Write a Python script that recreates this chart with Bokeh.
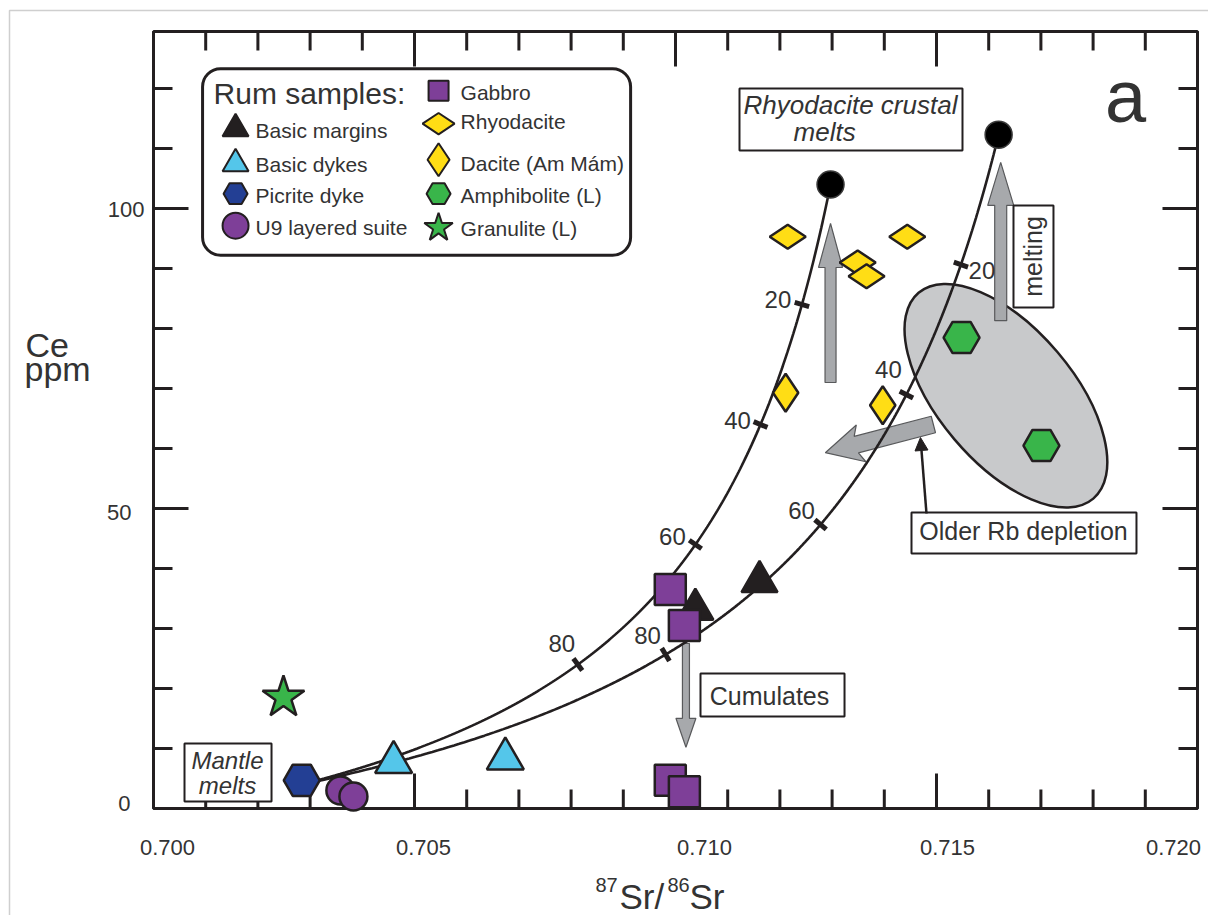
import numpy as np
from bokeh.plotting import figure
from bokeh.models import Range1d, BoxAnnotation, Arrow, NormalHead
from bokeh.core.properties import value
from bokeh.embed import file_html
from bokeh.resources import INLINE

# ---------------------------------------------------------------------------
# Rum samples: 87Sr/86Sr (initial) and Ce (ppm)
# ---------------------------------------------------------------------------
basic_margins_sr = [0.71038, 0.71161]
basic_margins_ce = [33.2, 37.8]
basic_dykes_sr = [0.70460, 0.70674]
basic_dykes_ce = [7.7, 8.3]
picrite_sr = [0.70284]
picrite_ce = [4.7]
u9_sr = [0.70358, 0.70383]
u9_ce = [3.0, 2.0]
gabbro_sr = [0.70990, 0.71017, 0.70990, 0.71017]
gabbro_ce = [36.5, 30.5, 4.7, 2.8]
rhyodacite_sr = [0.71215, 0.71349, 0.71366, 0.71444]
rhyodacite_ce = [95.3, 91.0, 88.7, 95.3]
dacite_sr = [0.71211, 0.71397]
dacite_ce = [69.3, 67.2]
amphibolite_sr = [0.71548, 0.71701]
amphibolite_ce = [78.5, 60.5]
granulite_sr = [0.70249]
granulite_ce = [18.5]

# Binary mixing between a mantle melt and two rhyodacitic crustal melts
mantle_sr, mantle_ce = 0.70284, 4.0
crust_sr = [0.71297, 0.71619]
crust_ce = [104.0, 112.3]
sr_conc_ratio = 4.37            # Sr(crustal melt) / Sr(mantle melt)
mix_pct = [20, 40, 60, 80]      # % mantle melt in the mixture

# axes
x_tick_values = [0.700, 0.705, 0.710, 0.715, 0.720]
x_minor_step = 0.001
y_tick_values = [0, 50, 100]
y_minor_step = 10

# ---------------------------------------------------------------------------
# styling
# ---------------------------------------------------------------------------
FONT = "Liberation Sans"
INK = "#231f20"
TXT = "#333333"
PURPLE = "#7e3f98"
YELLOW = "#ffdd15"
GREEN = "#39b54a"
NAVY = "#233f94"
CYAN = "#54c6ea"
ARROW_GREY = "#a7a9ac"
ELLIPSE_GREY = "#c8c9cb"

W, H = 1208, 915
X0, X1, Y0, Y1 = 0.700, 0.720, 0.0, 129.5      # extent of the plotting box
BOX_L, BOX_R, BOX_T, BOX_B = 153, 11, 31, 107   # margins around it (px)
SX = (W - BOX_L - BOX_R) / (X1 - X0)            # px per unit 87Sr/86Sr
SY = (H - BOX_T - BOX_B) / (Y1 - Y0)            # px per ppm Ce

p = figure(x_range=Range1d(X0 - BOX_L / SX, X1 + BOX_R / SX),
           y_range=Range1d(Y0 - BOX_B / SY, Y1 + BOX_T / SY),
           frame_width=W, frame_height=H,
           min_border_left=0, min_border_right=0, min_border_top=0, min_border_bottom=0,
           x_axis_location=None, y_axis_location=None,
           output_backend="svg", toolbar_location=None)
p.xgrid.visible = False
p.ygrid.visible = False
for r in p.center:
    r.visible = False
p.outline_line_color = None
p.background_fill_color = "white"
p.border_fill_color = "white"


def txt(x, y, s, size, align="center", baseline="middle", style="normal", angle=0.0):
    p.text(x=[x], y=[y], text=[s], angle=angle, text_align=align, text_baseline=baseline,
           text_font=value(FONT), text_font_style=style, text_font_size=size,
           text_color=TXT)


# thin page border
p.quad(left=[X0 - (BOX_L - 9) / SX], right=[X1 + 60 / SX],
       top=[Y1 + (BOX_T - 10) / SY], bottom=[Y0 - 200 / SY],
       fill_color=None, line_color="#cfcfcf", line_width=1.5)

# plotting box
p.quad(left=[X0], right=[X1], bottom=[Y0], top=[Y1],
       fill_color=None, line_color=INK, line_width=3)

# inward ticks on all four sides
x_all = np.round(np.arange(X0, X1 + 1e-9, x_minor_step), 4)
x_minor = [v for v in x_all if not np.isclose(v, x_tick_values).any()]
y_all = np.arange(Y0, Y1, y_minor_step)
y_minor = [v for v in y_all if v not in y_tick_values]
MAJ, MIN = 35, 19


def ticks_x(vals, length):
    n = len(vals)
    p.segment(x0=vals, x1=vals, y0=[Y0] * n, y1=[Y0 + length / SY] * n,
              line_color=INK, line_width=3)
    p.segment(x0=vals, x1=vals, y0=[Y1] * n, y1=[Y1 - length / SY] * n,
              line_color=INK, line_width=3)


def ticks_y(vals, length):
    n = len(vals)
    p.segment(x0=[X0] * n, x1=[X0 + length / SX] * n, y0=vals, y1=vals,
              line_color=INK, line_width=3)
    p.segment(x0=[X1] * n, x1=[X1 - length / SX] * n, y0=vals, y1=vals,
              line_color=INK, line_width=3)


ticks_x(list(x_tick_values), MAJ)
ticks_x(x_minor, MIN)
ticks_y(list(y_tick_values), MAJ)
ticks_y(y_minor, MIN)

# tick numbers
x_nudge = [14, 9, 29, 11, -24]
for v, dx in zip(x_tick_values, x_nudge):
    txt(v + dx / SX, Y0 - 38.5 / SY, f"{v:.3f}", "22px")
y_nudge = [(-23, -5), (-22, 3.5), (-9, 0.5)]
for v, (dx, dy) in zip(y_tick_values, y_nudge):
    txt(X0 + dx / SX, v - dy / SY, f"{v:d}", "22px", align="right")

# axis titles
txt(X0 - 128 / SX, Y0 + 464 / SY, "Ce", "34px", align="left")
txt(X0 - 129 / SX, Y0 + 440 / SY, "ppm", "34px", align="left")
for s, left, mid, size in (("87", 595, 884, "20px"), ("Sr/", 619, 896, "35px"),
                           ("86", 667, 884, "20px"), ("Sr", 689, 896, "35px")):
    txt(X0 + (left - BOX_L) / SX, Y0 - (mid - (H - BOX_B)) / SY, s, size, align="left")


def arrow_outline(x0, y0, x1, y1, shaft, head, head_len, sweep=0.0):
    """Polygon of a block arrow from (x0, y0) to (x1, y1); widths in pixels."""
    ax_, ay_ = x0 * SX, y0 * SY
    bx_, by_ = x1 * SX, y1 * SY
    length = np.hypot(bx_ - ax_, by_ - ay_)
    ux, uy = (bx_ - ax_) / length, (by_ - ay_) / length
    nx, ny = -uy, ux
    hx, hy = bx_ - ux * head_len, by_ - uy * head_len
    pts = [(ax_ + nx * shaft / 2, ay_ + ny * shaft / 2),
           (hx + nx * shaft / 2, hy + ny * shaft / 2),
           (hx - ux * sweep + nx * head / 2, hy - uy * sweep + ny * head / 2),
           (bx_, by_),
           (hx - ux * sweep - nx * head / 2, hy - uy * sweep - ny * head / 2),
           (hx - nx * shaft / 2, hy - ny * shaft / 2),
           (ax_ - nx * shaft / 2, ay_ - ny * shaft / 2)]
    return [q[0] / SX for q in pts], [q[1] / SY for q in pts]


# field of amphibolite (Lewisian) compositions
p.ellipse(x=[0.71633], y=[68.8], width=[270], height=[135], angle=[-0.867],
          width_units="screen", height_units="screen",
          fill_color=ELLIPSE_GREY, line_color=INK, line_width=2.5)

# process arrows
arrow_specs = [
    (0.71297, 71.0, 0.71297, 97.5, 11, 24, 44, 0),      # crustal melting, left curve
    (0.71623, 81.3, 0.71623, 107.7, 12, 26, 43, 0),     # crustal melting, right curve
    (0.71020, 27.5, 0.71020, 10.2, 7, 20, 29, 0),       # cumulates
    (0.71494, 64.0, 0.71287, 59.3, 17, 38, 32, 5),      # older Rb depletion
]
axs, ays = [], []
for spec in arrow_specs:
    xs_, ys_ = arrow_outline(*spec)
    axs.append(xs_)
    ays.append(ys_)
p.patches(xs=axs, ys=ays, fill_color=ARROW_GREY, line_color="#58595b", line_width=1.2)

# mixing curves with 20 % ticks
f = np.linspace(0.0, 1.0, 400)
frac = np.array(mix_pct) / 100.0


def mixing(fm, r_c, ce_c):
    fm = np.asarray(fm, dtype=float)
    w_c = (1.0 - fm) * sr_conc_ratio
    sr = (fm * mantle_sr + w_c * r_c) / (fm + w_c)
    ce = fm * mantle_ce + (1.0 - fm) * ce_c
    return sr, ce


label_shift = [  # pixel shift of each % label from its tick (right, down)
    [(-24, -5), (-23, -4), (-23, -8), (-16, -21)],
    [(21, 6), (-18, -25), (-19, -14), (-18, -19)],
]
for r_c, ce_c, shifts in zip(crust_sr, crust_ce, label_shift):
    sr_line, ce_line = mixing(f, r_c, ce_c)
    p.line(sr_line, ce_line, line_color=INK, line_width=2.6)
    sr_t, ce_t = mixing(frac, r_c, ce_c)
    sa, ca = mixing(frac - 0.005, r_c, ce_c)
    sb, cb = mixing(frac + 0.005, r_c, ce_c)
    ang = np.arctan2((cb - ca) * SY, (sb - sa) * SX) + np.pi / 2
    p.scatter(sr_t, ce_t, marker="dash", size=15, angle=ang,
              line_color=INK, line_width=5)
    lx = [s + d[0] / SX for s, d in zip(sr_t, shifts)]
    ly = [c - d[1] / SY for c, d in zip(ce_t, shifts)]
    p.text(lx, ly, text=[str(v) for v in mix_pct], text_align="center",
           text_baseline="middle", text_font=value(FONT), text_font_size="24px",
           text_color=TXT)

# sample symbols
OUT = dict(line_color=INK, line_width=2.5)
p.scatter(basic_margins_sr, basic_margins_ce, marker="triangle", size=36, fill_color=INK, **OUT)
p.scatter(gabbro_sr, gabbro_ce, marker="square", size=31, fill_color=PURPLE, **OUT)
p.scatter(basic_dykes_sr, basic_dykes_ce, marker="triangle", size=37, fill_color=CYAN, **OUT)
p.scatter(picrite_sr, picrite_ce, marker="hex", size=36, fill_color=NAVY, **OUT)
p.scatter(u9_sr, u9_ce, marker="circle", size=28, fill_color=PURPLE, **OUT)
p.scatter(rhyodacite_sr, rhyodacite_ce, marker="diamond", size=36, angle=np.pi / 2,
          fill_color=YELLOW, **OUT)
p.scatter(dacite_sr, dacite_ce, marker="diamond", size=38, fill_color=YELLOW, **OUT)
p.scatter(amphibolite_sr, amphibolite_ce, marker="hex", size=36, fill_color=GREEN, **OUT)
p.scatter(granulite_sr, granulite_ce, marker="star", size=44, fill_color=GREEN, **OUT)

# crustal-melt end members
p.scatter(crust_sr, crust_ce, marker="circle", size=27, fill_color="black",
          line_color="#3a3a3a", line_width=1.5)

# ---------------------------------------------------------------------------
# key
# ---------------------------------------------------------------------------
LEG_L, LEG_R, LEG_T, LEG_B = 0.70094, 0.70914, 123.3, 92.2
p.add_layout(BoxAnnotation(left=LEG_L, right=LEG_R, top=LEG_T, bottom=LEG_B,
                           fill_color="white", fill_alpha=1, line_color=INK, line_alpha=1,
                           line_width=3, border_radius=18, level="underlay"))


def key_xy(dx, dy):
    return LEG_L + dx / SX, LEG_T - dy / SY


key_col1 = [("Basic margins", "triangle", 26, INK, 0.0, 60, 62),
            ("Basic dykes", "triangle", 26, CYAN, 0.0, 95, 96),
            ("Picrite dyke", "hex", 24, NAVY, 0.0, 125, 127),
            ("U9 layered suite", "circle", 26, PURPLE, 0.0, 157, 159)]
key_col2 = [("Gabbro", "square", 20, PURPLE, 0.0, 22, 24),
            ("Rhyodacite", "diamond", 32, YELLOW, np.pi / 2, 55, 53),
            ("Dacite (Am Mám)", "diamond", 33, YELLOW, 0.0, 91, 95),
            ("Amphibolite (L)", "hex", 24, GREEN, 0.0, 125, 127),
            ("Granulite (L)", "star", 30, GREEN, 0.0, 159, 160)]
for col, mx, tx in ((key_col1, 33, 53), (key_col2, 236, 258)):
    for name, marker, size, fill, ang, my, ty in col:
        kx, ky = key_xy(mx, my)
        p.scatter([kx], [ky], marker=marker, size=size, angle=ang,
                  fill_color=fill, line_color=INK, line_width=2)
        lx, ly = key_xy(tx, ty)
        txt(lx, ly, name, "21px", align="left")
tx_, ty_ = key_xy(11, 25)
txt(tx_, ty_, "Rum samples:", "30px", align="left")

# ---------------------------------------------------------------------------
# boxed annotations
# ---------------------------------------------------------------------------
boxes = [(0.711226, 0.715498, 120.0, 109.67),   # rhyodacite crustal melts
         (0.700594, 0.702261, 10.83, 1.17),     # mantle melts
         (0.716475, 0.717241, 100.5, 83.5),     # melting
         (0.710479, 0.713238, 22.5, 15.33),     # cumulates
         (0.714521, 0.718831, 49.33, 42.5)]     # older Rb depletion
p.quad(left=[b[0] for b in boxes], right=[b[1] for b in boxes],
       top=[b[2] for b in boxes], bottom=[b[3] for b in boxes],
       fill_color="white", line_color=INK, line_width=2)

txt(0.713352, 117.2, "Rhyodacite crustal", "26px", style="italic")
txt(0.712261, 112.7, "melts", "26px", align="left", style="italic")
txt(0.701418, 8.0, "Mantle", "24px", style="italic")
txt(0.701418, 3.8, "melts", "24px", style="italic")
txt(0.716858, 92.0, "melting", "25px", angle=np.pi / 2)
txt(0.711801, 18.8, "Cumulates", "25px")
txt(0.716667, 46.2, "Older Rb depletion", "25px")
txt(0.718621, 118.7, "a", "74px")

# pointer from the depletion note to the arrow
p.add_layout(Arrow(end=NormalHead(size=13, fill_color=INK, line_color=INK),
                   x_start=0.714808, y_start=49.17, x_end=0.714693, y_end=61.83,
                   line_color=INK, line_width=2.5))

open("out.html", "w").write(file_html(p, INLINE))
